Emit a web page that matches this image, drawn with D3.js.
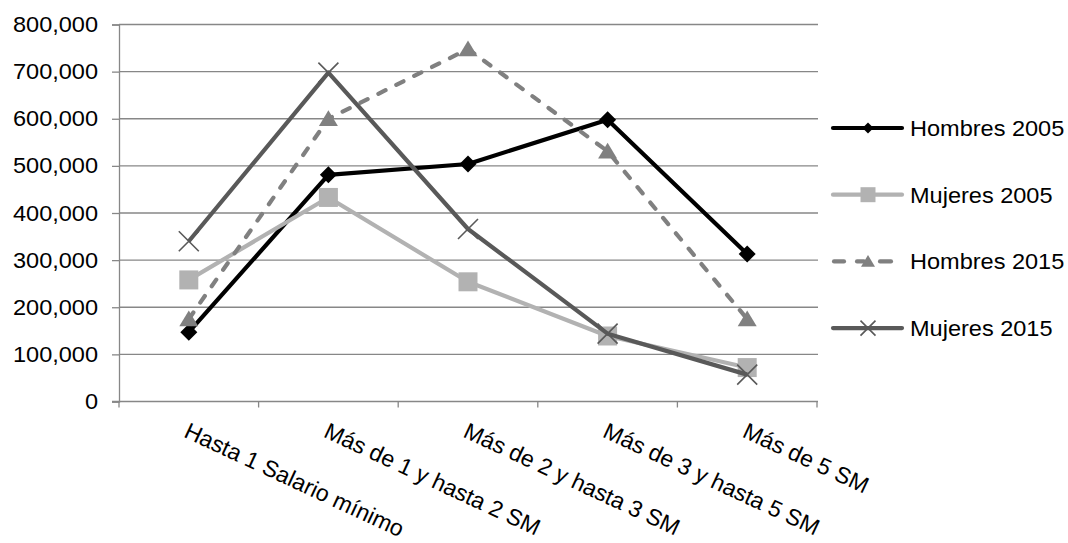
<!DOCTYPE html>
<html><head><meta charset="utf-8">
<script src="https://cdn.jsdelivr.net/npm/d3@7"></script>
<style>body{margin:0;background:#fff}svg{display:block}text{font-family:"Liberation Sans",Arial,sans-serif;fill:#000}</style>
</head><body><svg id="c" width="1068" height="543"></svg>
<script>
const categories = ["Hasta 1 Salario mínimo","Más de 1 y hasta 2 SM","Más de 2 y hasta 3 SM","Más de 3 y hasta 5 SM","Más de 5 SM"];
const hombres2005 = [147000, 481000, 504000, 598000, 313000];
const mujeres2005 = [258000, 433000, 254000, 139000, 72000];
const hombres2015 = [175000, 600000, 748000, 531000, 175000];
const mujeres2015 = [340000, 698000, 366000, 144000, 57000];
const yTicks = [0,100000,200000,300000,400000,500000,600000,700000,800000];
const seriesNames = ["Hombres 2005","Mujeres 2005","Hombres 2015","Mujeres 2015"];

(function(){
const series = [
  {name: seriesNames[0], values: hombres2005, color:"#000000", dash:null, marker:"diamond"},
  {name: seriesNames[1], values: mujeres2005, color:"#b2b2b2", dash:null, marker:"square"},
  {name: seriesNames[2], values: hombres2015, color:"#808080", dash:"8,12", marker:"triangle"},
  {name: seriesNames[3], values: mujeres2015, color:"#595959", dash:null, marker:"x"}
];

const svg = d3.select("#c");
const pL = 119, pR = 817, pT = 24.5, pB = 401.5;
const x = d3.scaleBand().domain(categories).range([pL, pR]);
const cx = d => x(d) + x.bandwidth()/2;
const y = d3.scaleLinear().domain([0, 800000]).range([pB, pT]);
const axisColor = "#878787";

// gridlines
svg.append("g").selectAll("line").data(yTicks.filter(t=>t>0)).join("line")
  .attr("x1", pL).attr("x2", pR+1).attr("y1", d=>y(d)).attr("y2", d=>y(d))
  .attr("stroke", axisColor).attr("stroke-width", 1.3);

// y axis
const yAxis = svg.append("g").attr("transform", `translate(${pL},0)`)
  .call(d3.axisLeft(y).tickValues(yTicks).tickFormat(d3.format(",")).tickSize(7).tickPadding(14));
yAxis.select(".domain").attr("stroke", axisColor).attr("stroke-width",1.3);
yAxis.selectAll(".tick line").attr("stroke", axisColor).attr("stroke-width",1.3);
yAxis.selectAll(".tick text").attr("font-size", 22).attr("font-family","Liberation Sans, Arial, sans-serif")
  .attr("fill","#000").attr("transform","scale(1.07,1)").attr("x", -21/1.07);

// x axis
svg.append("line").attr("x1", pL-7).attr("x2", pR+1).attr("y1", pB).attr("y2", pB)
  .attr("stroke", axisColor).attr("stroke-width",1.3);
const edges = categories.map(c=>x(c)).concat([pR]);
svg.append("g").selectAll("line").data(edges).join("line")
  .attr("x1", d=>d).attr("x2", d=>d).attr("y1", pB).attr("y2", pB+6)
  .attr("stroke", axisColor).attr("stroke-width",1.3);
svg.append("g").selectAll("text").data(categories).join("text")
  .attr("transform", d=>`translate(${cx(d)-6},${pB+35}) rotate(25)`)
  .attr("font-size", 23).text(d=>d);

function markerPath(type, s){
  const h = s/2;
  if(type==="diamond") return `M0,${-h}L${h},0L0,${h}L${-h},0Z`;
  if(type==="square") return `M${-h},${-h}H${h}V${h}H${-h}Z`;
  if(type==="triangle") return `M0,${-h*0.9}L${h},${h*0.75}L${-h},${h*0.75}Z`;
  return `M${-h},${-h}L${h},${h}M${h},${-h}L${-h},${h}`;
}
const mSize = {diamond:17, square:19, triangle:19, x:20};
const lSize = {diamond:11, square:15, triangle:14, x:15};

const line = d3.line().x((d,i)=>cx(categories[i])).y(d=>y(d));
series.forEach(s=>{
  const g = svg.append("g");
  g.append("path").attr("d", line(s.values)).attr("fill","none")
    .attr("stroke", s.color).attr("stroke-width", 4.2).attr("stroke-linejoin","round")
    .attr("stroke-linecap", s.dash ? "round" : "butt")
    .attr("stroke-dasharray", s.dash);
  g.selectAll("path.m").data(s.values).join("path").attr("class","m")
    .attr("transform",(d,i)=>`translate(${cx(categories[i])},${y(d)})`)
    .attr("d", markerPath(s.marker, mSize[s.marker]))
    .attr("fill", s.marker==="x" ? "none" : s.color)
    .attr("stroke", s.color).attr("stroke-width", s.marker==="x" ? 1.6 : 0);
});

// legend
const lg = svg.append("g");
series.forEach((s,i)=>{
  const yy = 128 + i*66.7;
  const g = lg.append("g").attr("transform", `translate(0,${yy})`);
  if(s.dash){
    [[834,844],[857,864],[880,891]].forEach(seg=>{
      g.append("line").attr("x1",seg[0]).attr("x2",seg[1]).attr("y1",0).attr("y2",0)
        .attr("stroke", s.color).attr("stroke-width",4.2).attr("stroke-linecap","round");
    });
  } else {
    g.append("line").attr("x1",833).attr("x2",902).attr("y1",0).attr("y2",0)
      .attr("stroke", s.color).attr("stroke-width",4.2).attr("stroke-linecap","round");
  }
  g.append("path").attr("transform","translate(868,0)").attr("d", markerPath(s.marker, lSize[s.marker]))
    .attr("fill", s.marker==="x" ? "none" : s.color)
    .attr("stroke", s.color).attr("stroke-width", s.marker==="x" ? 1.6 : 0);
  g.append("text").attr("x", 910/1.07).attr("y", 8).attr("transform","scale(1.07,1)")
    .attr("font-size", 22).text(s.name);
});
})();
</script></body></html>
